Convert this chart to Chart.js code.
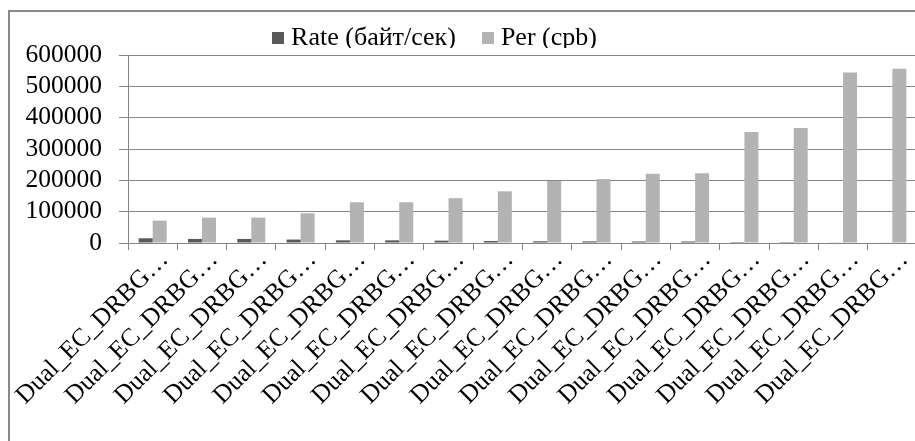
<!DOCTYPE html>
<html>
<head>
<meta charset="utf-8">
<script src="https://cdn.jsdelivr.net/npm/chart.js@4.4.1/dist/chart.umd.min.js"></script>
<style>
  html, body { margin: 0; padding: 0; overflow: hidden; background: #fff; }
  #wrap { position: absolute; left: 0; top: 0; width: 930px; height: 441px; }
</style>
</head>
<body>
<div id="wrap"><canvas id="c" width="930" height="441"></canvas></div>
<script>
// ---- data ----
const categories = [
  "Dual_EC_DRBG…", "Dual_EC_DRBG…", "Dual_EC_DRBG…", "Dual_EC_DRBG…",
  "Dual_EC_DRBG…", "Dual_EC_DRBG…", "Dual_EC_DRBG…", "Dual_EC_DRBG…",
  "Dual_EC_DRBG…", "Dual_EC_DRBG…", "Dual_EC_DRBG…", "Dual_EC_DRBG…",
  "Dual_EC_DRBG…", "Dual_EC_DRBG…", "Dual_EC_DRBG…", "Dual_EC_DRBG…"
];
const seriesNames = ["Rate (байт/сек)", "Per (cpb)"];
const rateValues = [15000, 13000, 13000, 11000, 8500, 8500, 7500, 6500, 5500, 5200, 4800, 4800, 3000, 2900, 2000, 1900];
const perValues  = [71500, 81000, 81000, 95000, 130000, 130000, 143000, 165000, 198000, 204000, 221000, 223000, 354000, 367000, 544000, 556000];
const yMin = 0, yMax = 600000, yStep = 100000;

// ---- styling ----
const FONT = "'Liberation Serif', 'Times New Roman', serif";
const GRID = '#858585';
const colors = ['#595959', '#b3b3b3'];

function legendSwatch(color) {
  const cv = document.createElement('canvas');
  cv.width = 12; cv.height = 12;
  const g = cv.getContext('2d');
  g.fillStyle = color; g.fillRect(0, 0, 12, 12);
  return cv;
}
const swatches = colors.map(legendSwatch);

const framePlugin = {
  id: 'frame',
  beforeDraw(chart) {
    const ctx = chart.ctx;
    ctx.save();
    ctx.strokeStyle = '#898989';
    ctx.lineWidth = 2;
    ctx.strokeRect(9, 11, 920, 460);
    ctx.restore();
  }
};

const legendShift = {
  id: 'legendShift',
  afterLayout(chart) {
    const lg = chart.legend;
    if (!lg) return;
    lg.left -= 21; lg.right -= 21;
    lg.top -= 7; lg.bottom -= 7;
  }
};

new Chart(document.getElementById('c'), {
  type: 'bar',
  data: {
    labels: categories,
    datasets: [
      { label: seriesNames[0], data: rateValues, backgroundColor: colors[0], borderWidth: 0,
        categoryPercentage: 0.568, barPercentage: 1.0 },
      { label: seriesNames[1], data: perValues, backgroundColor: colors[1], borderWidth: 0,
        categoryPercentage: 0.568, barPercentage: 1.0 }
    ]
  },
  options: {
    responsive: false,
    animation: false,
    devicePixelRatio: 1,
    layout: { padding: { left: 0, right: 13, top: 0, bottom: 0 } },
    plugins: {
      tooltip: { enabled: false },
      legend: {
        position: 'top',
        align: 'center',
        maxHeight: 55,
        labels: {
          color: '#000',
          font: { family: FONT, size: 26 },
          usePointStyle: true,
          pointStyleWidth: 0.01,
          padding: 32,
          generateLabels(chart) {
            const items = Chart.defaults.plugins.legend.labels.generateLabels(chart);
            items.forEach((it, i) => { it.pointStyle = swatches[i]; });
            return items;
          }
        }
      }
    },
    scales: {
      x: {
        offset: true,
        grid: { display: true, drawOnChartArea: false, drawTicks: true, tickLength: 7, color: GRID, lineWidth: 1 },
        border: { display: true, color: GRID, width: 1 },
        ticks: {
          autoSkip: false, maxRotation: 45, minRotation: 45,
          color: '#000', font: { family: FONT, size: 25.5 }, padding: -5, labelOffset: 12
        },
        afterFit(scale) { scale.height = 198; }
      },
      y: {
        min: yMin, max: yMax,
        grid: { color: GRID, lineWidth: 1, tickLength: 9, drawTicks: true },
        border: { display: true, color: GRID, width: 1 },
        ticks: {
          autoSkip: false,
          stepSize: yStep, color: '#000', font: { family: FONT, size: 25.5 }, padding: 17,
          callback: (v) => String(v)
        },
        afterFit(scale) { scale.width = 128; }
      }
    }
  },
  plugins: [framePlugin, legendShift]
});
</script>
</body>
</html>
